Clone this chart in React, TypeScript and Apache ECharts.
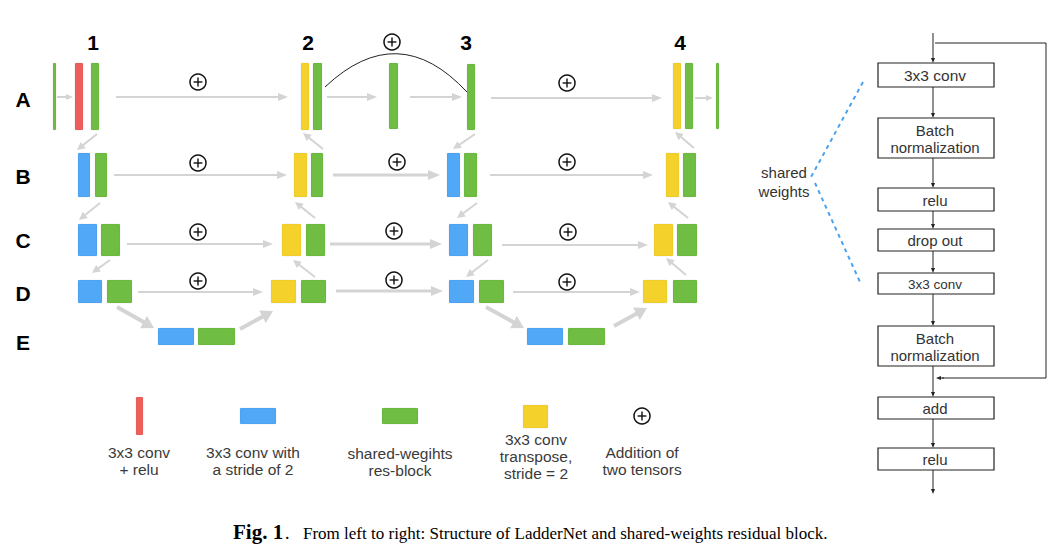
import React, { useEffect, useRef } from "react";
import * as echarts from "echarts";

// ---- texts / data ----
const rowLabels = ["A", "B", "C", "D", "E"];
const columnLabels = ["1", "2", "3", "4"];
const legendLabels = [
  "3x3 conv\n+ relu",
  "3x3 conv with\na stride of 2",
  "shared-wegihts\nres-block",
  "3x3 conv\ntranspose,\nstride = 2",
  "Addition of\ntwo tensors",
];
const blockSteps = [
  "3x3 conv",
  "Batch\nnormalization",
  "relu",
  "drop out",
  "3x3 conv",
  "Batch\nnormalization",
  "add",
  "relu",
];
const sharedLabel = "shared\nweights";
const captionBold = "Fig. 1";
const captionText = "From left to right: Structure of LadderNet and shared-weights residual block.";

// ---- styles ----
const RED = "#EE5F5B";
const BLUE = "#50A8F7";
const GREEN = "#6FBE43";
const YELLOW = "#F5D22B";
const GRAY = "#D4D4D4";
const INK = "#333";
const SANS = "'Liberation Sans', Arial, Helvetica, sans-serif";
const SERIF = "'Liberation Serif', 'Times New Roman', serif";

type El = any;

function bar(x0: number, x1: number, y0: number, y1: number, color: string): El {
  return {
    type: "rect",
    shape: { x: x0, y: y0, width: x1 - x0, height: y1 - y0, r: 1 },
    style: { fill: color, stroke: "rgba(0,0,0,0.06)", lineWidth: 1 },
    z: 10,
  };
}

function arrow(
  x1: number, y1: number, x2: number, y2: number,
  w = 2, hl = 10, hw = 4, color = GRAY, z = 5
): El[] {
  const dx = x2 - x1, dy = y2 - y1;
  const len = Math.sqrt(dx * dx + dy * dy);
  const ux = dx / len, uy = dy / len;
  const px = -uy, py = ux;
  const bx = x2 - ux * hl, by = y2 - uy * hl;
  return [
    { type: "line", shape: { x1, y1, x2: bx + ux * 1, y2: by + uy * 1 }, style: { stroke: color, lineWidth: w }, z },
    {
      type: "polygon",
      shape: { points: [[x2, y2], [bx + px * hw, by + py * hw], [bx - px * hw, by - py * hw]] },
      style: { fill: color },
      z,
    },
  ];
}

function plus(cx: number, cy: number, r = 8): El[] {
  const a = r * 0.55;
  return [
    { type: "circle", shape: { cx, cy, r }, style: { fill: "#fff", stroke: "#111", lineWidth: 1.5 }, z: 12 },
    { type: "line", shape: { x1: cx - a, y1: cy, x2: cx + a, y2: cy }, style: { stroke: "#111", lineWidth: 1.4 }, z: 13 },
    { type: "line", shape: { x1: cx, y1: cy - a, x2: cx, y2: cy + a }, style: { stroke: "#111", lineWidth: 1.4 }, z: 13 },
  ];
}

function text(x: number, y: number, s: string, font: string, fill = INK, align = "center", lineHeight = 16): El {
  return {
    type: "text",
    x,
    y,
    style: { text: s, font, fill, align, verticalAlign: "middle", lineHeight },
    z: 20,
  };
}

function buildElements(): El[] {
  const els: El[] = [];

  // row + column labels
  const rowY = [99, 176, 240, 293, 342];
  rowLabels.forEach((l, i) => els.push(text(23, rowY[i], l, `bold 21px ${SANS}`, "#000")));
  const colX = [93, 308, 466, 680];
  columnLabels.forEach((l, i) => els.push(text(colX[i], 42, l, `bold 21px ${SANS}`, "#000")));

  // Row A blocks
  const aT = 63, aB = 130;
  els.push(bar(53, 56, aT, aB, GREEN));
  els.push(bar(75, 83, aT, aB, RED));
  els.push(bar(91, 99, aT, aB, GREEN));
  els.push(bar(301, 309, aT, aB, YELLOW));
  els.push(bar(313, 322, aT, aB, GREEN));
  els.push(bar(389, 398, aT, aB - 1, GREEN));
  els.push(bar(467, 475, aT + 1, aB, GREEN));
  els.push(bar(673, 681, aT, aB - 1, YELLOW));
  els.push(bar(685, 693, aT, aB - 1, GREEN));
  els.push(bar(716, 719, aT, aB - 1, GREEN));

  // Row B
  const bT = 153, bB = 197;
  els.push(bar(78, 90, bT, bB, BLUE), bar(95, 107, bT, bB, GREEN));
  els.push(bar(294, 307, bT, bB, YELLOW), bar(311, 323, bT, bB, GREEN));
  els.push(bar(447, 460, bT, bB, BLUE), bar(464, 477, bT, bB, GREEN));
  els.push(bar(666, 679, bT, bB, YELLOW), bar(683, 696, bT, bB, GREEN));

  // Row C
  const cT = 224, cB = 256;
  els.push(bar(78, 97, cT, cB, BLUE), bar(101, 120, cT, cB, GREEN));
  els.push(bar(282, 301, cT, cB, YELLOW), bar(306, 325, cT, cB, GREEN));
  els.push(bar(449, 468, cT, cB, BLUE), bar(473, 492, cT, cB, GREEN));
  els.push(bar(654, 673, cT, cB, YELLOW), bar(677, 697, cT, cB, GREEN));

  // Row D
  const dT = 280, dB = 303;
  els.push(bar(78, 102, dT, dB, BLUE), bar(107, 132, dT, dB, GREEN));
  els.push(bar(271, 296, dT, dB, YELLOW), bar(301, 326, dT, dB, GREEN));
  els.push(bar(449, 474, dT, dB, BLUE), bar(479, 504, dT, dB, GREEN));
  els.push(bar(643, 667, dT, dB, YELLOW), bar(673, 697, dT, dB, GREEN));

  // Row E
  const eT = 328, eB = 345;
  els.push(bar(158, 194, eT, eB, BLUE), bar(198, 235, eT, eB, GREEN));
  els.push(bar(527, 563, eT, eB, BLUE), bar(568, 605, eT, eB, GREEN));

  // horizontal arrows
  els.push(...arrow(57, 97, 73, 97, 2, 7, 3));
  els.push(...arrow(116, 97, 288, 97));
  els.push(...arrow(327, 97, 377, 97));
  els.push(...arrow(410, 97, 462, 97));
  els.push(...arrow(491, 98, 662, 98));
  els.push(...arrow(695, 98, 713, 98, 2, 7, 3));

  els.push(...arrow(114, 175, 287, 175));
  els.push(...arrow(333, 175, 440, 175, 3, 12, 5));
  els.push(...arrow(490, 175, 653, 175));

  els.push(...arrow(127, 244, 273, 244));
  els.push(...arrow(330, 244, 442, 244, 3, 12, 5));
  els.push(...arrow(502, 245, 648, 245));

  els.push(...arrow(138, 292, 263, 292));
  els.push(...arrow(336, 291, 443, 291, 3, 12, 5));
  els.push(...arrow(513, 292, 640, 292));

  // diagonal arrows (encoder down-left)
  els.push(...arrow(97, 134, 77, 150, 2, 8, 4));
  els.push(...arrow(100, 203, 79, 220, 2, 8, 4));
  els.push(...arrow(110, 260, 92, 273, 2, 8, 4));
  els.push(...arrow(475, 134, 453, 149, 2, 8, 4));
  els.push(...arrow(477, 203, 457, 218, 2, 8, 4));
  els.push(...arrow(488, 260, 466, 277, 2, 8, 4));
  // decoder up-left
  els.push(...arrow(323, 149, 303, 133, 2, 8, 4));
  els.push(...arrow(315, 218, 295, 202, 2, 8, 4));
  els.push(...arrow(315, 277, 293, 260, 2, 8, 4));
  els.push(...arrow(694, 148, 675, 132, 2, 8, 4));
  els.push(...arrow(688, 218, 668, 202, 2, 8, 4));
  els.push(...arrow(686, 275, 666, 258, 2, 8, 4));
  // thick to/from E
  els.push(...arrow(117, 307, 154, 328, 4, 12, 7));
  els.push(...arrow(240, 329, 273, 311, 4, 12, 7));
  els.push(...arrow(486, 307, 524, 328, 4, 12, 7));
  els.push(...arrow(614, 326, 647, 308, 4, 12, 7));

  // skip arc
  els.push({
    type: "bezierCurve",
    shape: { x1: 325, y1: 87, x2: 467, y2: 92, cpx1: 398, cpy1: 18 },
    style: { stroke: "#222", lineWidth: 1, fill: null },
    z: 8,
  });

  // plus signs
  const plusPts = [
    [198, 82], [392, 42], [567, 83],
    [198, 163], [397, 162], [567, 162],
    [198, 232], [394, 231], [568, 232],
    [198, 281], [394, 280], [567, 282],
  ];
  plusPts.forEach(([x, y]) => els.push(...plus(x, y)));

  // ---- right: residual block ----
  const bx0 = 878, bx1 = 994, cx = 933;
  const boxY = [[63, 87], [118, 158], [188, 211], [229, 251], [273, 294], [326, 366], [397, 419], [448, 470]];
  const boxFont = [15.5, 15, 15, 15, 13.5, 15, 15, 15];
  blockSteps.forEach((s, i) => {
    const [y0, y1] = boxY[i];
    els.push({
      type: "rect",
      shape: { x: bx0, y: y0, width: bx1 - bx0, height: y1 - y0 },
      style: { fill: "#fff", stroke: "#222", lineWidth: 1.2 },
      z: 10,
    });
    els.push(text(cx + 2, (y0 + y1) / 2 + 0.5, s, `${boxFont[i]}px ${SANS}`, "#333", "center", 17));
  });
  const vArrows = [[33, 63], [87, 118], [158, 188], [211, 229], [251, 273], [294, 326], [366, 397], [419, 448], [470, 494]];
  vArrows.forEach(([a, b]) => els.push(...arrow(cx, a, cx, b, 1, 5, 2, "#222")));
  els.push({
    type: "polyline",
    shape: { points: [[935, 43], [1046, 43], [1046, 378], [942, 378]] },
    style: { stroke: "#222", lineWidth: 1, fill: null },
    z: 6,
  });
  els.push(...arrow(944, 378, 936, 378, 1, 5, 2, "#222"));

  // shared weights
  els.push(text(784, 182, sharedLabel, `15px ${SANS}`, "#333", "center", 19));
  els.push({
    type: "line",
    shape: { x1: 863, y1: 82, x2: 811, y2: 177 },
    style: { stroke: "#4AA3F0", lineWidth: 2, lineDash: [4, 4] },
    z: 6,
  });
  els.push({
    type: "line",
    shape: { x1: 815, y1: 183, x2: 860, y2: 282 },
    style: { stroke: "#4AA3F0", lineWidth: 2, lineDash: [4, 4] },
    z: 6,
  });

  // ---- legend ----
  els.push(bar(136, 143, 397, 435, RED));
  els.push(bar(240, 276, 408, 424, BLUE));
  els.push(bar(382, 418, 408, 424, GREEN));
  els.push(bar(523, 548, 405, 428, YELLOW));
  els.push(...plus(642, 416));
  const legX = [139, 253, 400, 536, 642];
  const legY = [461, 461, 462, 456, 461];
  legendLabels.forEach((s, i) => els.push(text(legX[i], legY[i], s, `15.5px ${SANS}`, "#3a3a3a", "center", 17)));

  // ---- caption ----
  els.push({
    type: "text",
    x: 233,
    y: 532,
    style: { text: captionBold, font: `bold 21px ${SERIF}`, fill: "#000", align: "left", verticalAlign: "middle" },
    z: 20,
  });
  els.push({
    type: "text",
    x: 285,
    y: 533,
    style: { text: ".", font: `18px ${SERIF}`, fill: "#000", align: "left", verticalAlign: "middle" },
    z: 20,
  });
  els.push({
    type: "text",
    x: 303,
    y: 533,
    style: { text: captionText, font: `17px ${SERIF}`, fill: "#000", align: "left", verticalAlign: "middle" },
    z: 20,
  });

  return els;
}

export default function App() {
  const ref = useRef<HTMLDivElement>(null);
  useEffect(() => {
    document.body.style.margin = "0";
    if (!ref.current) return;
    const chart = echarts.init(ref.current, undefined, { renderer: "svg" });
    chart.setOption({
      animation: false,
      backgroundColor: "#fff",
      graphic: { elements: buildElements() },
    });
    return () => chart.dispose();
  }, []);
  return <div ref={ref} style={{ width: 1060, height: 558 }} />;
}
